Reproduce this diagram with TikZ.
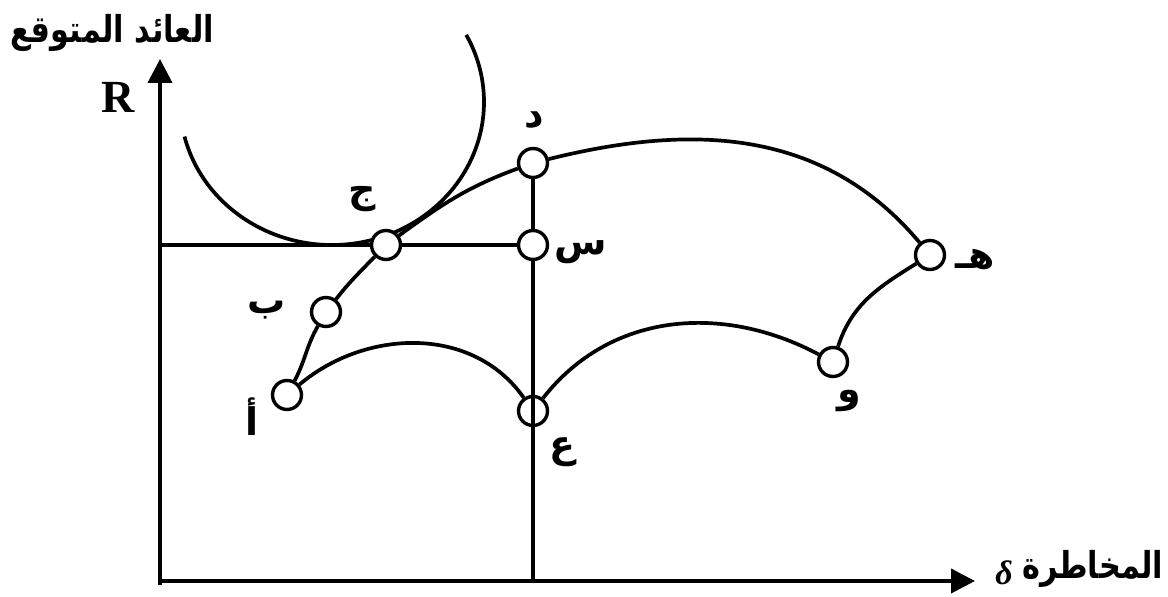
\documentclass[tikz,border=0pt]{standalone}
\usepackage{fontspec}
\setmainfont{Liberation Serif}
\newfontfamily\arabicfont[Script=Arabic]{DejaVu Sans}
\newfontfamily\arabictitle[Script=Arabic, FakeStretch=0.82]{DejaVu Sans}
\TeXXeTstate=1
\usetikzlibrary{arrows.meta}
\tikzset{
  pt/.style={circle, draw, line width=3.4pt, fill=white, minimum size=29pt, inner sep=0pt},
  curve/.style={line width=3.7pt},
  axis/.style={line width=4pt, -{Triangle[width=24pt,length=24pt]}},
  lab/.style={font=\arabicfont\bfseries\fontsize{38}{38}\selectfont, inner sep=0pt},
  ttl/.style={font=\arabictitle\bfseries\fontsize{37}{37}\selectfont, inner sep=0pt}
}
\begin{document}
\begin{tikzpicture}[x=1pt,y=1pt]
\useasboundingbox (0,0) rectangle (1168,597);
\coordinate (O) at (160,16);
\coordinate (Ytip) at (160,538);
\coordinate (Xtip) at (975,16);
% indifference curve
\draw[curve] (332,495) ++(194:152 and 143) arc[start angle=194, end angle=388, x radius=152, y radius=143];
% points
\node[pt] (a) at (287,202) {};
\node[pt] (b) at (326,285) {};
\node[pt] (c) at (386,352) {};
\node[pt] (d) at (533,434) {};
\node[pt] (s) at (533,352) {};
\node[pt] (h) at (930,342) {};
\node[pt] (w) at (833,235) {};
\node[pt] (e) at (533,186) {};
% axes
\draw[axis] (160,12) -- (Ytip);
\draw[axis] (158,16) -- (Xtip);
% guide lines
\draw[curve] (c) -- (c -| O);
\draw[curve] (c) -- (s);
\draw[curve] (d) -- (s);
\draw[curve] (s) -- (s |- O);
% frontier
\draw[curve] (a) to[out=62,in=-120] (b);
\draw[curve] (b) to[out=52,in=-134] (c);
\draw[curve] (c) to[out=36,in=-160] (d);
\draw[curve] (d) to[out=14,in=130] (h);
\draw[curve] (w) to[out=72,in=-148] (h);
\draw[curve] (a) to[out=40,in=125] (e);
\draw[curve] (e) to[out=52,in=152] (w);
% labels
\node[lab] (ld) at (534,477) {\beginR د\endR};
\node[lab] (ls) at (581,345) {\beginR س\endR};
\node[lab] (lc) at (362,398) {\beginR ج\endR};
\node[lab] (lb) at (267,287) {\beginR ب\endR};
\node[lab] (la) at (252,180) {\beginR أ\endR};
\node[lab] (le) at (562,145) {\beginR ع\endR};
\node[lab] (lw) at (849,196) {\beginR و\endR};
\node[lab] (lh) at (975,337) {\beginR هـ\endR};
\node[font=\bfseries\fontsize{46}{46}\selectfont, inner sep=0pt] (R) at (118,500) {R};
\node[ttl] (ty) at (112,564) {\beginR العائد المتوقع\endR};
\node[ttl] (tx) at (1093,28) {\beginR المخاطرة\endR};
\node[font=\bfseries\itshape\fontsize{34}{34}\selectfont, inner sep=0pt] (delta) at (1004,24) {δ};
\end{tikzpicture}
\end{document}
